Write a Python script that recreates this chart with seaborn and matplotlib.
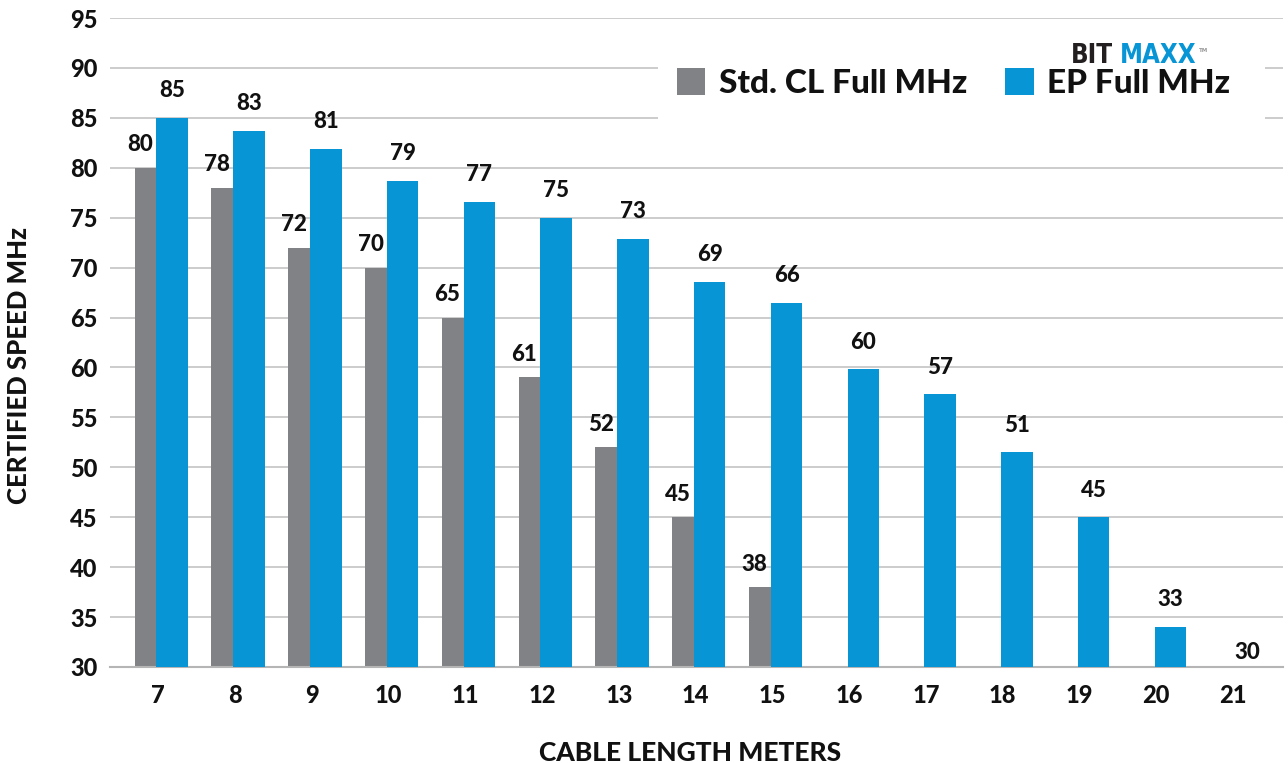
import matplotlib
matplotlib.use("Agg")
import matplotlib.pyplot as plt
from matplotlib.patches import Rectangle
import seaborn as sns
import numpy as np
import pandas as pd

# ---- data ----
lengths = [7, 8, 9, 10, 11, 12, 13, 14, 15, 16, 17, 18, 19, 20, 21]
std_lengths = [7, 8, 9, 10, 11, 12, 13, 14, 15]
std_values = [80, 78, 72, 70, 65, 59, 52, 45, 38]
std_labels = ["80", "78", "72", "70", "65", "61", "52", "45", "38"]
ep_values = [85, 83.7, 81.9, 78.7, 76.6, 75, 72.9, 68.6, 66.5, 59.8, 57.3, 51.5, 45, 34, 30]
ep_labels = ["85", "83", "81", "79", "77", "75", "73", "69", "66", "60", "57", "51", "45", "33", "30"]
y_ticks = [30, 35, 40, 45, 50, 55, 60, 65, 70, 75, 80, 85, 90, 95]
series_names = ["Std. CL Full MHz", "EP Full MHz"]

GRAY = "#808285"
BLUE = "#0895d6"
TXT = "#111111"
GRID = "#c8c8c8"
WEIGHT = "black"

sns.set_theme(style="white")
plt.rcParams["font.family"] = ["Lato", "DejaVu Sans"]
plt.rcParams["font.weight"] = WEIGHT

W, H = 1288, 763
fig = plt.figure(figsize=(W / 100, H / 100), dpi=100)
ax = fig.add_axes([110 / W, 96 / H, (1283 - 110) / W, 649 / H])

gray_off, gray_w = -0.16, 0.29
blue_off, blue_w = 0.185, 0.41

std_df = pd.DataFrame({"x": [l + gray_off for l in std_lengths], "y": std_values})
ep_df = pd.DataFrame({"x": [l + blue_off for l in lengths], "y": ep_values})

sns.barplot(data=std_df, x="x", y="y", native_scale=True, width=gray_w,
            color=GRAY, saturation=1, label=series_names[0], ax=ax, zorder=2,
            linewidth=0, edgecolor="none")
n_std = len(ax.patches)
sns.barplot(data=ep_df, x="x", y="y", native_scale=True, width=blue_w,
            color=BLUE, saturation=1, label=series_names[1], ax=ax, zorder=3,
            linewidth=0, edgecolor="none")

ax.set_xlim(6.375, 21.65)
ax.set_ylim(30, 95)

# value labels
bars = ax.patches
for i, p in enumerate(bars[:n_std]):
    ax.annotate(std_labels[i], (p.get_x() + p.get_width() / 2, p.get_height()),
                xytext=(-4, 9), textcoords="offset points", ha="center", va="bottom",
                fontsize=16, fontweight=WEIGHT, color=TXT)
for i, p in enumerate(bars[n_std:n_std + len(ep_labels)]):
    h = p.get_height()
    dy = 12 if h > 30.5 else 3
    ax.annotate(ep_labels[i], (p.get_x() + p.get_width() / 2, h),
                xytext=(0, dy), textcoords="offset points", ha="center", va="bottom",
                fontsize=16, fontweight=WEIGHT, color=TXT)

# axes styling
ax.set_yticks(y_ticks)
ax.set_yticklabels([str(v) for v in y_ticks])
ax.set_xticks(lengths)
ax.set_xticklabels([str(v) for v in lengths])
ax.set_xticks([l - 0.5 for l in lengths] + [lengths[-1] + 0.5], minor=True)
ax.tick_params(axis="y", length=0, pad=9, labelsize=17, labelcolor=TXT)
ax.tick_params(axis="x", which="major", length=0, pad=12, labelsize=17, labelcolor=TXT)
ax.tick_params(axis="x", which="minor", length=6.5, width=1.3, color="#bdbdbd", direction="out")
for lab in ax.get_xticklabels() + ax.get_yticklabels():
    lab.set_fontweight(WEIGHT)

ax.set_axisbelow(True)
ax.yaxis.grid(True, color=GRID, linewidth=1.3)
ax.xaxis.grid(False)
for s in ["top", "right", "left"]:
    ax.spines[s].set_visible(False)
ax.spines["bottom"].set_color("#b5b5b5")
ax.spines["bottom"].set_linewidth(1.5)

ax.set_xlabel("CABLE LENGTH METERS", fontsize=19, fontweight=WEIGHT, color=TXT)
ax.set_ylabel("CERTIFIED SPEED MHz", fontsize=18.5, fontweight=WEIGHT, color=TXT)
ax.xaxis.set_label_coords((690 - 110) / 1173, (667 - 741) / 649)
ax.yaxis.set_label_coords((31 - 110) / 1173, (667 - 365) / 649)

# legend background
ax.add_patch(Rectangle((658 / W, 1 - 145 / H), (1265 - 658) / W, 110 / H,
                       transform=fig.transFigure, facecolor="white", edgecolor="none",
                       zorder=1))

leg = ax.legend(ncol=2, loc="center left", bbox_to_anchor=(677 / W, 1 - 83 / H),
                bbox_transform=fig.transFigure, frameon=False, fontsize=24,
                handlelength=0.85, handleheight=0.85, handletextpad=0.4,
                columnspacing=1.15, borderpad=0, borderaxespad=0)
for t in leg.get_texts():
    t.set_fontweight(WEIGHT)
    t.set_color(TXT)

# logo
fig.text(1071 / W, 1 - 63 / H, "BIT", fontsize=18.5, fontweight="heavy",
         family=["DejaVu Sans"], fontstretch="condensed", color="#231f20",
         ha="left", va="baseline")
fig.text(1120 / W, 1 - 63 / H, "MAXX", fontsize=18.5, fontweight="heavy",
         family=["DejaVu Sans"], fontstretch="condensed", color=BLUE,
         ha="left", va="baseline")
fig.text(1199 / W, 1 - 52 / H, "TM", fontsize=4, fontweight="bold",
         family=["DejaVu Sans"], color="#999999", ha="left", va="baseline")

fig.savefig("out.png", dpi=100)
